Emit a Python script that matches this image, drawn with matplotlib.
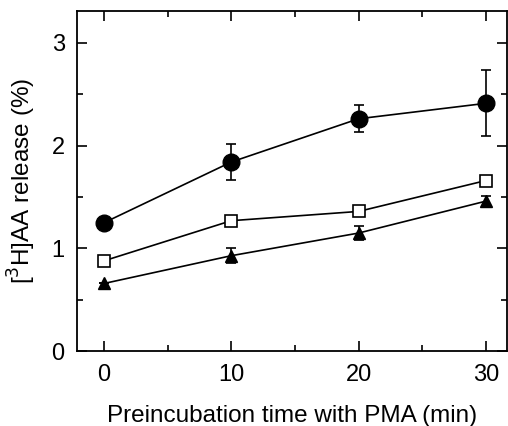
import matplotlib
matplotlib.use("Agg")
import matplotlib.pyplot as plt
from matplotlib.ticker import MultipleLocator

plt.rcParams['font.family'] = ['Liberation Sans', 'DejaVu Sans']

# preincubation time (min)
time = [0, 10, 20, 30]

# filled circles
circ = [1.25, 1.84, 2.26, 2.41]
circ_err = [0.0, 0.17, 0.13, 0.32]

# open squares
sq = [0.88, 1.27, 1.36, 1.66]

# filled triangles
tri = [0.66, 0.93, 1.15, 1.46]
tri_err = [0.0, 0.07, 0.07, 0.045]

fig = plt.figure(figsize=(5.08, 4.26), dpi=100)
ax = fig.add_axes([0.152, 0.175, 0.846, 0.80])

ax.errorbar(time, circ, yerr=circ_err, fmt='o-', color='black', ms=12,
            lw=1.2, elinewidth=1.2, capsize=3.5, capthick=1.2, zorder=3)
ax.errorbar(time, tri, yerr=tri_err, fmt='^-', color='black', ms=9,
            lw=1.2, elinewidth=1.2, capsize=3.5, capthick=1.2, zorder=3)
ax.plot(time, sq, 's-', color='black', mfc='white', mec='black', ms=9,
        mew=1.2, lw=1.2, zorder=4)

ax.set_xlim(-2.1, 31.65)
ax.set_ylim(0, 3.31)
ax.xaxis.set_major_locator(MultipleLocator(10))
ax.xaxis.set_minor_locator(MultipleLocator(5))
ax.yaxis.set_major_locator(MultipleLocator(1))
ax.yaxis.set_minor_locator(MultipleLocator(0.5))
ax.tick_params(which='both', direction='in', top=True, right=True,
               width=1.2, labelsize=17, pad=9)
ax.tick_params(which='major', length=7)
ax.tick_params(which='minor', length=4)
for s in ax.spines.values():
    s.set_linewidth(1.3)

ax.set_xlabel("Preincubation time with PMA (min)", fontsize=17.5, labelpad=14)
ax.set_ylabel("[$^{3}$H]AA release (%)", fontsize=17.5, labelpad=10)

fig.savefig("out.png", dpi=100)
